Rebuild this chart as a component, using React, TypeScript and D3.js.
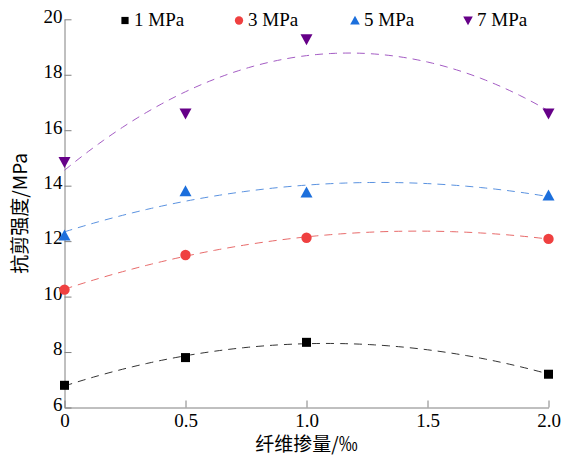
import React, { useEffect, useRef } from 'react';
import * as d3 from 'd3';

// fibre content (‰)
const fiberContent = [0, 0.5, 1.0, 2.0];
const seriesNames = ['1 MPa', '3 MPa', '5 MPa', '7 MPa'];
const mpa1 = [6.8, 7.8, 8.35, 7.2];
const mpa3 = [10.25, 11.5, 12.12, 12.08];
const mpa5 = [12.2, 13.8, 13.75, 13.65];
const mpa7 = [14.85, 16.6, 19.28, 16.6];
const xTicks = [0, 0.5, 1.0, 1.5, 2.0];
const xTickLabels = ['0', '0.5', '1.0', '1.5', '2.0'];
const yTicks = [6, 8, 10, 12, 14, 16, 18, 20];

const markerColors = ['#000000', '#ef4040', '#1c6fdc', '#660088'];
const lineColors = ['#333333', '#e86a6a', '#5a92e0', '#a45cc4'];
const symbols = ['square', 'circle', 'up', 'down'];

// least-squares quadratic fit y = a + b x + c x^2
function quadFit(xs: number[], ys: number[]) {
  const s = (p: number) => d3.sum(xs, x => Math.pow(x, p));
  const t = (p: number) => d3.sum(xs.map((x, i) => Math.pow(x, p) * ys[i]));
  const M = [
    [s(0), s(1), s(2), t(0)],
    [s(1), s(2), s(3), t(1)],
    [s(2), s(3), s(4), t(2)],
  ];
  for (let i = 0; i < 3; i++) {
    for (let k = i + 1; k < 3; k++) {
      const f = M[k][i] / M[i][i];
      for (let j = i; j < 4; j++) M[k][j] -= f * M[i][j];
    }
  }
  const c = M[2][3] / M[2][2];
  const b = (M[1][3] - M[1][2] * c) / M[1][1];
  const a = (M[0][3] - M[0][1] * b - M[0][2] * c) / M[0][0];
  return (x: number) => a + b * x + c * x * x;
}

const App = () => {
  const svgRef = useRef<SVGSVGElement>(null);

  useEffect(() => {
    const width = 561;
    const height = 459;
    const svg = d3.select(svgRef.current);
    svg.selectAll('*').remove();
    svg.attr('width', width).attr('height', height);

    const x = d3.scaleLinear().domain([0, 2]).range([64.5, 548.5]);
    const y = d3.scaleLinear().domain([6, 20]).range([407.5, 19.3]);
    const axisColor = '#808080';
    const font = '"Liberation Serif", "Times New Roman", serif';
    const cjk = '"Noto Sans CJK SC", sans-serif';

    const allSeries = [mpa1, mpa3, mpa5, mpa7];

    // Axes
    const xAxis = svg.append('g')
      .attr('transform', `translate(0,${y(6)})`)
      .call(d3.axisBottom(x).tickValues(xTicks).tickSize(-7).tickSizeOuter(0)
        .tickFormat((d, i) => xTickLabels[i]));
    xAxis.attr('font-family', font).attr('font-size', 19);
    xAxis.select('.domain').attr('stroke', axisColor);
    xAxis.selectAll('line').attr('stroke', axisColor);
    xAxis.selectAll('text')
      .attr('y', 19)
      .attr('dy', 0)
      .attr('fill', '#000');

    const yAxis = svg.append('g')
      .attr('transform', `translate(${x(0)},0)`)
      .call(d3.axisLeft(y).tickValues(yTicks).tickSize(-7).tickSizeOuter(0));
    yAxis.attr('font-family', font).attr('font-size', 19);
    yAxis.select('.domain').attr('stroke', axisColor);
    yAxis.selectAll('line').attr('stroke', axisColor);
    yAxis.selectAll('text')
      .attr('x', -2)
      .attr('dy', '0.15em')
      .attr('fill', '#000');

    // Axis titles
    svg.append('text')
      .attr('x', (x(0) + x(2)) / 2)
      .attr('y', 451)
      .attr('text-anchor', 'middle')
      .attr('font-family', cjk)
      .attr('font-size', 19)
      .text('纤维掺量/‰');

    svg.append('text')
      .attr('transform', `translate(27,${(y(6) + y(20)) / 2}) rotate(-90)`)
      .attr('text-anchor', 'middle')
      .attr('font-family', cjk)
      .attr('font-size', 19)
      .text('抗剪强度/MPa');

    const drawMarker = (g: any, kind: string, cx: number, cy: number, color: string, k = 1) => {
      if (kind === 'square') {
        g.append('rect').attr('x', cx - 4.5 * k).attr('y', cy - 4.5 * k)
          .attr('width', 9 * k).attr('height', 9 * k).attr('fill', color);
      } else if (kind === 'circle') {
        g.append('circle').attr('cx', cx).attr('cy', cy).attr('r', 5.2 * k).attr('fill', color);
      } else if (kind === 'up') {
        g.append('path')
          .attr('d', `M${cx},${cy - 6 * k}L${cx + 6 * k},${cy + 5 * k}L${cx - 6 * k},${cy + 5 * k}Z`)
          .attr('fill', color);
      } else {
        g.append('path')
          .attr('d', `M${cx - 6 * k},${cy - 5 * k}L${cx + 6 * k},${cy - 5 * k}L${cx},${cy + 6 * k}Z`)
          .attr('fill', color);
      }
    };

    // Fit curves
    allSeries.forEach((vals, i) => {
      const f = quadFit(fiberContent, vals);
      const xs = d3.range(0, 2.0001, 0.02);
      svg.append('path')
        .attr('d', d3.line<number>().x(d => x(d)).y(d => y(f(d)))(xs) as string)
        .attr('fill', 'none')
        .attr('stroke', lineColors[i])
        .attr('stroke-width', 1)
        .attr('stroke-dasharray', '8,6');
    });

    // Points
    allSeries.forEach((vals, i) => {
      const g = svg.append('g');
      vals.forEach((v, j) => drawMarker(g, symbols[i], x(fiberContent[j]), y(v), markerColors[i]));
    });

    // Legend
    const legendX = [125, 239, 355, 468];
    const lg = svg.append('g');
    seriesNames.forEach((name, i) => {
      drawMarker(lg, symbols[i], legendX[i], 20.5, markerColors[i], 0.8);
      lg.append('text')
        .attr('x', legendX[i] + 9)
        .attr('y', 26)
        .attr('font-family', font)
        .attr('font-size', 19)
        .text(name);
    });
  }, []);

  return (
    <div style={{ position: 'absolute', left: 0, top: 0 }}>
      <svg ref={svgRef} style={{ display: 'block', background: '#fff' }} />
    </div>
  );
};

export default App;
